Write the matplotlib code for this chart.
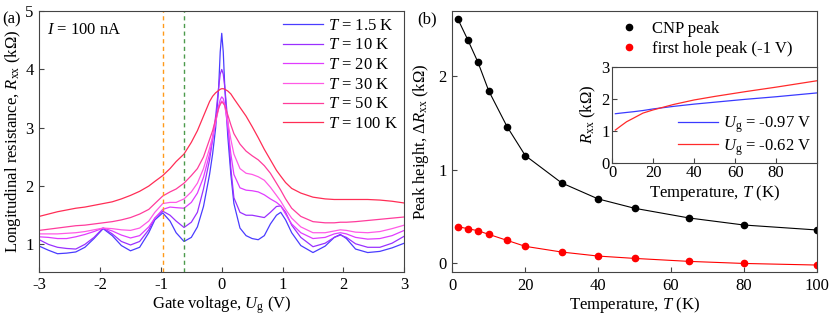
import numpy as np
import matplotlib
matplotlib.use("Agg")
import matplotlib.pyplot as plt

plt.rcParams["font.family"] = ["Liberation Serif", "DejaVu Serif"]
plt.rcParams["mathtext.fontset"] = "custom"
plt.rcParams["mathtext.rm"] = "Liberation Serif"
plt.rcParams["mathtext.it"] = "Liberation Serif:italic"
plt.rcParams["axes.unicode_minus"] = False
plt.rcParams["font.size"] = 12

# --- panel (a): Rxx vs gate voltage ---
ug = [-3.0, -2.85, -2.7, -2.55, -2.4, -2.25, -2.1, -1.95, -1.8, -1.65,
      -1.5, -1.35, -1.2, -1.1, -0.97, -0.85, -0.75, -0.62, -0.5, -0.4,
      -0.3, -0.2, -0.15, -0.1, -0.05, -0.025, 0.0, 0.025, 0.05, 0.1,
      0.15, 0.2, 0.3, 0.4, 0.5, 0.6, 0.7, 0.8, 0.9, 0.97,
      1.05, 1.15, 1.3, 1.5, 1.7, 1.85, 1.95, 2.05, 2.2, 2.4,
      2.6, 2.8, 3.0]

r_1p5 = [0.97, 0.9, 0.84, 0.85, 0.87, 0.95, 1.1, 1.27, 1.15, 0.98,
         0.89, 0.95, 1.2, 1.42, 1.54, 1.4, 1.2, 1.05, 1.12, 1.3,
         1.65, 2.2, 2.55, 3.0, 3.7, 4.3, 4.62, 4.3, 3.7, 2.85,
         2.2, 1.7, 1.28, 1.15, 1.1, 1.08, 1.15, 1.35, 1.5, 1.55,
         1.42, 1.2, 0.98, 0.86, 0.97, 1.12, 1.17, 1.1, 0.92, 0.86,
         0.88, 0.94, 1.02]
r_10 = [1.08, 1.0, 0.95, 0.93, 0.92, 1.0, 1.12, 1.28, 1.18, 1.05,
        0.99, 1.05, 1.25, 1.45, 1.57, 1.5, 1.4, 1.29, 1.38, 1.55,
        1.95, 2.45, 2.8, 3.2, 3.7, 3.92, 4.0, 3.92, 3.7, 3.1,
        2.3, 1.8, 1.55, 1.5, 1.5, 1.48, 1.46, 1.55, 1.65, 1.66,
        1.55, 1.33, 1.12, 0.96, 1.02, 1.12, 1.16, 1.12, 1.01, 0.95,
        0.95, 1.02, 1.14]
r_20 = [1.13, 1.12, 1.1, 1.1, 1.13, 1.17, 1.22, 1.28, 1.23, 1.16,
        1.11, 1.15, 1.3, 1.45, 1.6, 1.64, 1.63, 1.62, 1.72, 1.88,
        2.15, 2.55, 2.8, 3.1, 3.38, 3.48, 3.53, 3.5, 3.4, 3.0,
        2.55, 2.2, 1.97, 1.93, 1.92, 1.9, 1.85, 1.78, 1.72, 1.66,
        1.52, 1.35, 1.2, 1.1, 1.12, 1.18, 1.2, 1.18, 1.12, 1.09,
        1.1, 1.15, 1.24]
r_30 = [1.18, 1.18, 1.18, 1.19, 1.2, 1.22, 1.25, 1.28, 1.27, 1.25,
        1.24, 1.28, 1.4, 1.55, 1.7, 1.72, 1.72, 1.78, 1.9, 2.05,
        2.3, 2.65, 2.85, 3.1, 3.33, 3.42, 3.46, 3.44, 3.38, 3.1,
        2.8, 2.55, 2.3, 2.22, 2.2, 2.16, 2.1, 1.98, 1.84, 1.74,
        1.6, 1.45, 1.3, 1.2, 1.2, 1.23, 1.25, 1.24, 1.21, 1.2,
        1.22, 1.27, 1.33]
r_50 = [1.24, 1.26, 1.28, 1.3, 1.32, 1.33, 1.35, 1.37, 1.39, 1.42,
        1.46, 1.52, 1.6, 1.7, 1.83, 1.9, 1.95, 2.05, 2.18, 2.3,
        2.5, 2.8, 2.95, 3.15, 3.34, 3.4, 3.44, 3.42, 3.38, 3.22,
        3.05, 2.9, 2.72, 2.6, 2.52, 2.45, 2.35, 2.22, 2.05, 1.93,
        1.78, 1.62, 1.48, 1.39, 1.37, 1.37, 1.38, 1.38, 1.39, 1.41,
        1.43, 1.45, 1.47]
r_100 = [1.48, 1.52, 1.56, 1.59, 1.62, 1.64, 1.67, 1.7, 1.73, 1.78,
         1.84, 1.91, 2.0, 2.08, 2.18, 2.3, 2.42, 2.55, 2.75, 2.95,
         3.2, 3.45, 3.54, 3.6, 3.64, 3.66, 3.67, 3.67, 3.66, 3.63,
         3.58, 3.5, 3.35, 3.2, 3.02, 2.83, 2.63, 2.45, 2.27, 2.17,
         2.06, 1.96, 1.88, 1.81, 1.78, 1.77, 1.77, 1.77, 1.77, 1.77,
         1.76, 1.74, 1.71]

curves = [r_1p5, r_10, r_20, r_30, r_50, r_100]
temp_labels = ["1.5", "10", "20", "30", "50", "100"]
colors_a = ["#4a3cff", "#9a30ff", "#e03cff", "#ff5ae6", "#ff3c9c", "#ff2d55"]

# --- panel (b): peak heights vs temperature ---
temps = [1.5, 4.2, 7, 10, 15, 20, 30, 40, 50, 65, 80, 100]
cnp_peak = [2.61, 2.39, 2.15, 1.84, 1.46, 1.15, 0.857, 0.686, 0.586, 0.482, 0.407, 0.354]
hole_peak = [0.389, 0.368, 0.346, 0.307, 0.243, 0.179, 0.118, 0.075, 0.05, 0.018, -0.004, -0.021]

# inset: Rxx at fixed gate voltage
r_m097 = [1.53, 1.55, 1.57, 1.59, 1.63, 1.68, 1.76, 1.83, 1.89, 1.98, 2.06, 2.18]
r_m062 = [1.02, 1.15, 1.28, 1.38, 1.55, 1.65, 1.82, 1.96, 2.07, 2.22, 2.36, 2.56]

spine_c = "#444444"


def style_axes(ax):
    for s in ax.spines.values():
        s.set_color(spine_c)
        s.set_linewidth(0.8)
    ax.tick_params(direction="in", length=3.5, width=0.8, color=spine_c, pad=4)


fig = plt.figure(figsize=(8.3, 3.19), dpi=100)

# (a)
ax1 = fig.add_axes([0.0473, 0.148, 0.4397, 0.817])
for r, t, c in zip(curves, temp_labels, colors_a):
    ax1.plot(ug, r, color=c, lw=0.9, label=r"$T$ = " + t + " K")
ax1.axvline(-0.97, color="#ff9a1a", lw=1.0, ls=(0, (3, 2.5)))
ax1.axvline(-0.62, color="#4c9a4c", lw=1.0, ls=(0, (3, 2.5)))
ax1.set_xlim(-3, 3)
ax1.set_ylim(0.53, 5)
ax1.set_xticks([-3, -2, -1, 0, 1, 2, 3])
ax1.set_yticks([1, 2, 3, 4, 5])
ax1.set_xlabel(r"Gate voltage, $U_{\rm g}$ (V)", labelpad=1)
ax1.set_ylabel(r"Longitudinal resistance, $R_{\rm xx}$ (k$\Omega$)", labelpad=2)
ax1.text(0.02, 0.96, r"$I$ = 100 nA", transform=ax1.transAxes, va="top", ha="left")
ax1.legend(loc="upper right", frameon=False, handlelength=2.4, handletextpad=0.3,
           labelspacing=0.22, borderaxespad=0.15, borderpad=0.25)
style_axes(ax1)
fig.text(0.003, 0.965, "(a)", va="top", ha="left")

# (b)
ax2 = fig.add_axes([0.545, 0.146, 0.439, 0.818])
ax2.plot(temps, cnp_peak, color="black", lw=0.8, marker="o", ms=4.5, label="CNP peak")
ax2.plot(temps, hole_peak, color="red", lw=0.8, marker="o", ms=4.5, label="first hole peak (-1 V)")
ax2.set_xlim(0, 100)
ax2.set_ylim(-0.1, 2.69)
ax2.set_xticks([0, 20, 40, 60, 80, 100])
ax2.set_yticks([0, 1, 2])
ax2.set_xlabel(r"Temperature, $T$ (K)", labelpad=1)
ax2.set_ylabel(r"Peak height, $\Delta R_{\rm xx}$ (k$\Omega$)", labelpad=5)
leg = ax2.legend(loc="upper left", bbox_to_anchor=(0.41, 1.02), frameon=False,
                 handlelength=1.5, handletextpad=0.6, labelspacing=0.2)
for line in leg.get_lines():
    line.set_linestyle("none")
style_axes(ax2)
fig.text(0.503, 0.965, "(b)", va="top", ha="left")

# inset
ax3 = fig.add_axes([0.7377, 0.49, 0.2466, 0.301])
ax3.plot(temps, r_m097, color="#3a3aff", lw=0.9, label=r"$U_{\rm g}$ = -0.97 V")
ax3.plot(temps, r_m062, color="#ff2a2a", lw=0.9, label=r"$U_{\rm g}$ = -0.62 V")
ax3.set_xlim(0, 100)
ax3.set_ylim(0, 3)
ax3.set_xticks([0, 20, 40, 60, 80])
ax3.set_yticks([0, 1, 2, 3])
ax3.set_xlabel(r"Temperature, $T$ (K)", labelpad=1)
ax3.set_ylabel(r"$R_{\rm xx}$ (k$\Omega$)", labelpad=2)
ax3.legend(loc="lower right", frameon=False, handlelength=2.4, handletextpad=0.3,
           labelspacing=0.1, borderaxespad=0.1, borderpad=0.2)
style_axes(ax3)
ax3.tick_params(pad=2)

fig.savefig("out.png", dpi=100)
